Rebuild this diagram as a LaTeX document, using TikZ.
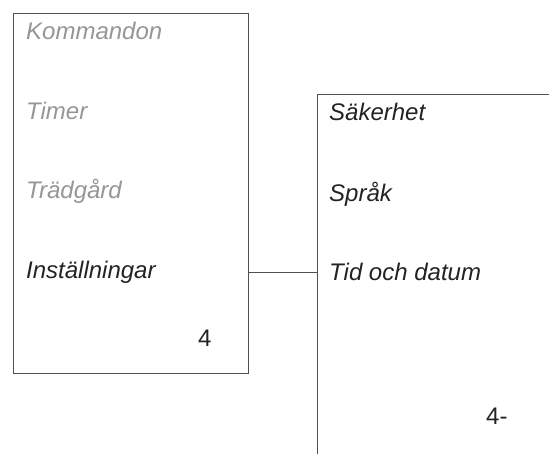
\documentclass[tikz,border=0pt]{standalone}
\usepackage{fontspec}
\setmainfont{Liberation Sans}
\usetikzlibrary{positioning}
\definecolor{framegray}{RGB}{80,80,80}
\definecolor{dimgray}{RGB}{150,150,150}
\definecolor{itemblack}{RGB}{35,35,35}

\begin{document}
\begin{tikzpicture}[x=1pt, y=-1pt,
  menubox/.style={rectangle, draw=framegray, line width=1.2pt, anchor=north west, inner sep=0pt},
  item/.style={anchor=base west, inner sep=0pt, font=\fontsize{24}{28}\selectfont\itshape, text=itemblack},
  dimitem/.style={item, text=dimgray},
  pagenum/.style={anchor=base west, inner sep=0pt, font=\fontsize{24}{28}\selectfont, text=itemblack},
  link/.style={draw=framegray, line width=1pt}
]
\useasboundingbox (0,0) rectangle (549,454);
% main menu
\node[menubox, minimum width=235pt, minimum height=360pt] (menu) at (13,13) {};
\node[dimitem] (kommandon) at (26,40) {Kommandon};
\node[dimitem] (timer) at (26,120) {Timer};
\node[dimitem] (tradgard) at (26,199) {Trädgård};
\node[item] (installningar) at (26,279) {Inställningar};
\node[pagenum] (menunum) at (198,347) {4};
% settings submenu (runs off the page)
\node[menubox, minimum width=300pt, minimum height=420pt] (sub) at (317,94) {};
\node[item] (sakerhet) at (329,121) {Säkerhet};
\node[item] (sprak) at (329,202) {Språk};
\node[item] (tiddatum) at (329,281) {Tid och datum};
\node[pagenum] (subnum) at (486,424) {4-};

\draw[link] (menu.east |- installningar.west) -- (sub.west |- installningar.west);
\end{tikzpicture}
\end{document}
